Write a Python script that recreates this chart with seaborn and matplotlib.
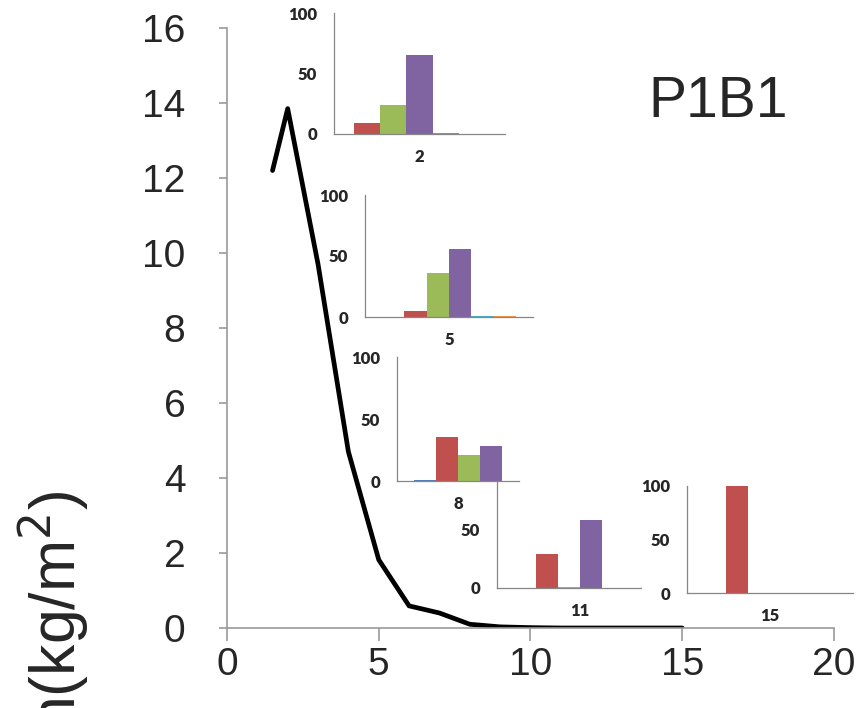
import numpy as np
import pandas as pd
import seaborn as sns
import matplotlib.pyplot as plt
from matplotlib.patches import Rectangle

plt.switch_backend('Agg')

# main curve
depth = [1.5, 2, 3, 4, 5, 6, 7, 8, 9, 10, 11, 12, 13, 14, 15]
biomass = [12.2, 13.85, 9.7, 4.7, 1.82, 0.59, 0.40, 0.10, 0.03, 0.01, 0.0, 0.0, 0.0, 0.0, 0.0]

x_ticks = [0, 5, 10, 15, 20]
y_ticks = [0, 2, 4, 6, 8, 10, 12, 14, 16]

# inset bar charts (percent per series)
series_colors = {'Series1': '#4F81BD', 'Series2': '#C0504D', 'Series3': '#9BBB59',
                 'Series4': '#8064A2', 'Series5': '#4BACC6', 'Series6': '#F79646'}

inset2_series = ['Series2', 'Series3', 'Series4', 'Series5', 'Series6']
inset2_vals = [9.3, 24, 65, 0.5, 0.0]

inset5_series = ['Series1', 'Series2', 'Series3', 'Series4', 'Series5', 'Series6']
inset5_vals = [0.0, 5, 36, 56, 0.6, 0.7]

inset8_series = ['Series1', 'Series2', 'Series3', 'Series4']
inset8_vals = [1.0, 35.5, 21, 28]

inset11_series = ['Series1', 'Series2', 'Series3', 'Series4', 'Series5', 'Series6']
inset11_vals = [0.0, 29, 0.5, 58.6, 0.0, 0.0]

inset15_series = ['Series1', 'Series2', 'Series3', 'Series4', 'Series5', 'Series6']
inset15_vals = [0.0, 100, 0.0, 0.0, 0.0, 0.0]

W, H = 864, 708
fig = plt.figure(figsize=(W / 100, H / 100), dpi=100)
sns.set_style('white')
plt.rcParams['font.family'] = ['Liberation Sans', 'DejaVu Sans']


def px_axes(left, right, y0, y100, **kw):
    return fig.add_axes([left / W, 1 - y0 / H, (right - left) / W, (y0 - y100) / H], **kw)


# main axes
ax = px_axes(227, 834, 628, 28)
sns.lineplot(x=depth, y=biomass, color='black', linewidth=3.4, ax=ax)
ax.set_xlim(0, 20)
ax.set_ylim(0, 16)
ax.set_xticks(x_ticks)
ax.set_yticks(y_ticks)
ax.set_xlabel('')
ax.set_ylabel('')
for s in ['top', 'right']:
    ax.spines[s].set_visible(False)
for s in ['left', 'bottom']:
    ax.spines[s].set_color('#9a9a9a')
    ax.spines[s].set_linewidth(1.2)
ax.tick_params(axis='x', direction='out', length=9, width=1.2, color='#9a9a9a',
               labelsize=28, pad=5, bottom=True)
ax.tick_params(axis='y', direction='out', length=6, width=1.2, color='#9a9a9a',
               labelsize=28, pad=24, left=True)

fig.text(718 / W, 1 - 102 / H, 'P1B1', fontsize=41, ha='center', va='center')
# y label runs off the bottom edge, as in the original
fig.text(54 / W, 1 - 491 / H, 'Carbon(kg/m$^2$)', fontsize=45, rotation=90,
         ha='center', va='top')


def draw_inset(box, label, series, vals, zorder=1):
    left, right, y0, y100 = box
    iax = px_axes(left, right, y0, y100)
    iax.set_zorder(zorder)
    df = pd.DataFrame({'cat': [label] * len(series), 'series': series, 'val': vals})
    n = len(series)
    sns.barplot(data=df, x='cat', y='val', hue='series', hue_order=series,
                palette=series_colors, saturation=1, width=n / (n + 1.5),
                errorbar=None, legend=False, linewidth=0, ax=iax)
    iax.set_xlim(-0.5, 0.5)
    iax.set_ylim(0, 100)
    iax.set_yticks([0, 50, 100])
    iax.set_xlabel('')
    iax.set_ylabel('')
    iax.set_facecolor('white')
    for s in ['top', 'right']:
        iax.spines[s].set_visible(False)
    for s in ['left', 'bottom']:
        iax.spines[s].set_color('#868686')
        iax.spines[s].set_linewidth(0.9)
    iax.set_xticks([-0.5, 0.5], minor=True)
    iax.tick_params(axis='x', which='minor', length=4, width=0.9, color='#868686')
    iax.tick_params(axis='x', which='major', length=0, pad=11)
    iax.tick_params(axis='y', direction='out', length=5, width=0.9, color='#868686', pad=7)
    for t in iax.get_xticklabels() + iax.get_yticklabels():
        t.set_fontfamily(['Lato', 'DejaVu Sans'])
        t.set_fontweight('heavy')
        t.set_fontsize(12)
    return iax


draw_inset((334, 505, 134, 13), '2', inset2_series, inset2_vals)
draw_inset((365, 533, 317, 195), '5', inset5_series, inset5_vals)
draw_inset((497, 662, 588, 472), '11', inset11_series, inset11_vals)
draw_inset((397, 519, 481, 357), '8', inset8_series, inset8_vals, zorder=2)

# white chart area behind the last inset (hides the end of the 11 axis)
fig.patches.append(Rectangle((642 / W, 1 - 620 / H), 45 / W, 140 / H,
                             transform=fig.transFigure, facecolor='white',
                             edgecolor='none', zorder=2.5))
draw_inset((687, 853, 593, 486), '15', inset15_series, inset15_vals, zorder=3)

plt.savefig('out.png', dpi=100)
plt.close()
